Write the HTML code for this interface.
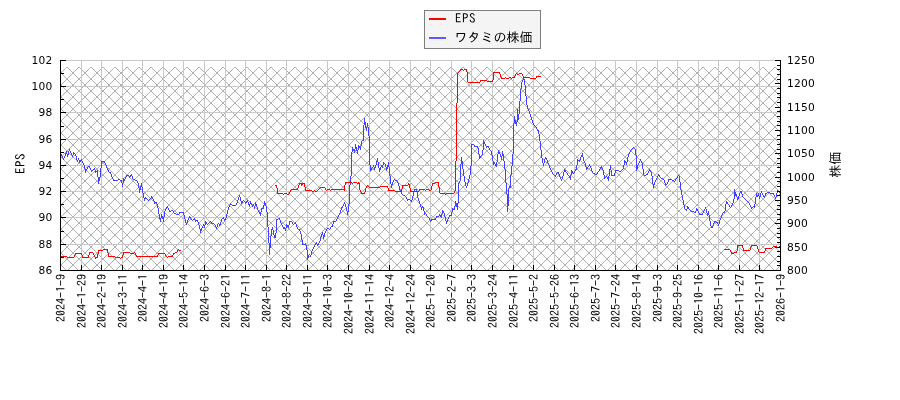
<!DOCTYPE html>
<html lang="ja"><head><meta charset="utf-8"><title>ワタミの株価 EPS</title>
<style>
html,body{margin:0;padding:0;background:#fff;}
body{width:900px;height:400px;overflow:hidden;}
svg{display:block;will-change:transform;}
.num{font-family:"DejaVu Sans","Liberation Sans",sans-serif;font-size:10.67px;letter-spacing:0.21px;fill:#000;}
.jp{font-family:"IPAGothic","Liberation Mono","Noto Sans CJK JP",monospace;fill:#000;}
</style></head><body>
<svg width="900" height="400" viewBox="0 0 900 400">
<rect x="0" y="0" width="900" height="400" fill="#ffffff"/>
<defs><clipPath id="hc"><rect x="61" y="67" width="719" height="203"/></clipPath>
<clipPath id="pc"><rect x="60" y="55" width="721" height="216"/></clipPath></defs>
<path clip-path="url(#hc)" d="M-156 60L59 275M-144 60L71 275M-132 60L83 275M-120 60L95 275M-108 60L107 275M-96 60L119 275M-84 60L131 275M-72 60L143 275M-60 60L155 275M-48 60L167 275M-36 60L179 275M-24 60L191 275M-12 60L203 275M0 60L215 275M12 60L227 275M24 60L239 275M36 60L251 275M48 60L263 275M60 60L275 275M72 60L287 275M84 60L299 275M96 60L311 275M108 60L323 275M120 60L335 275M132 60L347 275M144 60L359 275M156 60L371 275M168 60L383 275M180 60L395 275M192 60L407 275M204 60L419 275M216 60L431 275M228 60L443 275M240 60L455 275M252 60L467 275M264 60L479 275M276 60L491 275M288 60L503 275M300 60L515 275M312 60L527 275M324 60L539 275M336 60L551 275M348 60L563 275M360 60L575 275M372 60L587 275M384 60L599 275M396 60L611 275M408 60L623 275M420 60L635 275M432 60L647 275M444 60L659 275M456 60L671 275M468 60L683 275M480 60L695 275M492 60L707 275M504 60L719 275M516 60L731 275M528 60L743 275M540 60L755 275M552 60L767 275M564 60L779 275M576 60L791 275M588 60L803 275M600 60L815 275M612 60L827 275M624 60L839 275M636 60L851 275M648 60L863 275M660 60L875 275M672 60L887 275M684 60L899 275M696 60L911 275M708 60L923 275M720 60L935 275M732 60L947 275M744 60L959 275M756 60L971 275M768 60L983 275M780 60L995 275M62 60L-153 275M74 60L-141 275M86 60L-129 275M98 60L-117 275M110 60L-105 275M122 60L-93 275M134 60L-81 275M146 60L-69 275M158 60L-57 275M170 60L-45 275M182 60L-33 275M194 60L-21 275M206 60L-9 275M218 60L3 275M230 60L15 275M242 60L27 275M254 60L39 275M266 60L51 275M278 60L63 275M290 60L75 275M302 60L87 275M314 60L99 275M326 60L111 275M338 60L123 275M350 60L135 275M362 60L147 275M374 60L159 275M386 60L171 275M398 60L183 275M410 60L195 275M422 60L207 275M434 60L219 275M446 60L231 275M458 60L243 275M470 60L255 275M482 60L267 275M494 60L279 275M506 60L291 275M518 60L303 275M530 60L315 275M542 60L327 275M554 60L339 275M566 60L351 275M578 60L363 275M590 60L375 275M602 60L387 275M614 60L399 275M626 60L411 275M638 60L423 275M650 60L435 275M662 60L447 275M674 60L459 275M686 60L471 275M698 60L483 275M710 60L495 275M722 60L507 275M734 60L519 275M746 60L531 275M758 60L543 275M770 60L555 275M782 60L567 275M794 60L579 275M806 60L591 275M818 60L603 275M830 60L615 275M842 60L627 275M854 60L639 275M866 60L651 275M878 60L663 275M890 60L675 275M902 60L687 275M914 60L699 275M926 60L711 275M938 60L723 275M950 60L735 275M962 60L747 275M974 60L759 275M986 60L771 275M998 60L783 275" fill="none" stroke="#7a7a7a" stroke-width="0.6"/>
<path d="M81.5 60V270M101.5 60V270M122.5 60V270M142.5 60V270M163.5 60V270M183.5 60V270M204.5 60V270M225.5 60V270M245.5 60V270M266.5 60V270M286.5 60V270M307.5 60V270M327.5 60V270M348.5 60V270M369.5 60V270M389.5 60V270M410.5 60V270M430.5 60V270M451.5 60V270M471.5 60V270M492.5 60V270M513.5 60V270M533.5 60V270M554.5 60V270M574.5 60V270M595.5 60V270M615.5 60V270M636.5 60V270M657.5 60V270M677.5 60V270M698.5 60V270M718.5 60V270M739.5 60V270M759.5 60V270M780.5 60V270M61 60.5H780M61 86.5H780M61 112.5H780M61 139.5H780M61 165.5H780M61 191.5H780M61 217.5H780M61 244.5H780" fill="none" stroke="#c8c8c8" stroke-width="1" shape-rendering="crispEdges"/>
<g fill="none" stroke-width="1" stroke-linecap="butt" shape-rendering="crispEdges">
<path stroke="#4040ff" d="M61.5 154v2M62.5 156v2M63.5 158v2M64.5 156v2M65.5 153v3M66.5 151v3M67.5 154v3M68.5 151v4M69.5 149v2M70.5 151v2M71.5 153v2M72.5 155v2M73.5 152v3M74.5 153v1M75.5 154v2M76.5 156v4M77.5 160v2M78.5 158v2M79.5 160v3M80.5 160v2M81.5 159v2M82.5 161v2M83.5 163v2M84.5 165v4M85.5 169v4M86.5 169v2M87.5 167v2M88.5 166v1M89.5 166v2M90.5 168v2M91.5 170v2M92.5 170v1M93.5 169v1M94.5 168v2M95.5 170v3M96.5 171v1M97.5 170v7M98.5 177v7M99.5 177v4M100.5 168v9M101.5 161v7M102.5 161v1M103.5 161v1M104.5 161v2M105.5 163v2M106.5 165v3M107.5 168v2M108.5 170v2M109.5 172v1M110.5 172v2M111.5 174v3M112.5 177v2M113.5 179v2M114.5 180v1M115.5 180v1M116.5 180v1M117.5 180v1M118.5 179v1M119.5 179v1M120.5 180v1M121.5 180v3M122.5 183v4M123.5 178v5M124.5 179v2M125.5 177v2M126.5 175v2M127.5 175v1M128.5 175v1M129.5 176v2M130.5 175v2M131.5 174v2M132.5 176v3M133.5 179v1M134.5 179v1M135.5 180v1M136.5 180v1M137.5 181v2M138.5 183v5M139.5 188v5M140.5 186v4M141.5 183v4M142.5 187v6M143.5 193v5M144.5 198v3M145.5 197v2M146.5 198v1M147.5 199v1M148.5 200v1M149.5 199v1M150.5 198v1M151.5 196v2M152.5 197v2M153.5 199v2M154.5 201v3M155.5 202v1M156.5 202v2M157.5 204v4M158.5 208v6M159.5 214v5M160.5 218v4M161.5 214v4M162.5 216v3M163.5 217v5M164.5 211v6M165.5 209v2M166.5 207v2M167.5 206v2M168.5 208v2M169.5 210v2M170.5 211v1M171.5 210v1M172.5 210v1M173.5 211v2M174.5 213v1M175.5 213v1M176.5 214v1M177.5 214v1M178.5 214v1M179.5 212v2M180.5 212v1M181.5 212v1M182.5 212v1M183.5 212v3M184.5 215v4M185.5 219v4M186.5 223v2M187.5 220v3M188.5 218v2M189.5 216v2M190.5 217v2M191.5 219v1M192.5 220v1M193.5 219v1M194.5 218v2M195.5 220v2M196.5 220v1M197.5 220v2M198.5 222v3M199.5 225v4M200.5 229v4M201.5 228v3M202.5 226v2M203.5 224v2M204.5 225v3M205.5 221v4M206.5 222v2M207.5 224v1M208.5 223v1M209.5 222v1M210.5 221v1M211.5 222v2M212.5 223v1M213.5 223v1M214.5 224v1M215.5 225v2M216.5 227v2M217.5 224v3M218.5 223v1M219.5 224v2M220.5 222v3M221.5 219v3M222.5 218v1M223.5 217v2M224.5 219v2M225.5 218v2M226.5 214v4M227.5 210v4M228.5 207v3M229.5 205v2M230.5 203v2M231.5 204v1M232.5 205v1M233.5 205v1M234.5 205v1M235.5 205v1M236.5 203v2M237.5 200v3M238.5 197v3M239.5 195v2M240.5 197v4M241.5 201v3M242.5 201v2M243.5 200v1M244.5 201v1M245.5 202v2M246.5 201v2M247.5 200v2M248.5 202v3M249.5 204v3M250.5 201v3M251.5 203v2M252.5 205v2M253.5 204v2M254.5 206v3M255.5 202v4M256.5 204v3M257.5 207v3M258.5 210v2M259.5 212v2M260.5 212v4M261.5 208v4M262.5 208v1M263.5 205v4M264.5 201v4M265.5 203v3M266.5 206v6M267.5 212v15M268.5 227v16M269.5 243v12M270.5 236v12M271.5 229v7M272.5 227v3M273.5 230v5M274.5 235v3M275.5 233v5M276.5 219v14M277.5 219v1M278.5 218v1M279.5 218v2M280.5 220v3M281.5 223v2M282.5 225v2M283.5 227v2M284.5 227v2M285.5 228v3M286.5 224v4M287.5 225v2M288.5 225v3M289.5 221v4M290.5 221v1M291.5 221v1M292.5 222v2M293.5 224v1M294.5 223v1M295.5 222v2M296.5 224v3M297.5 227v2M298.5 229v1M299.5 229v2M300.5 231v3M301.5 234v6M302.5 240v5M303.5 244v1M304.5 244v1M305.5 243v2M306.5 245v5M307.5 250v10M308.5 255v3M309.5 254v1M310.5 255v2M311.5 251v4M312.5 249v2M313.5 247v2M314.5 245v2M315.5 243v2M316.5 242v2M317.5 244v2M318.5 243v2M319.5 241v2M320.5 237v4M321.5 234v3M322.5 232v3M323.5 235v4M324.5 233v4M325.5 231v2M326.5 229v2M327.5 228v1M328.5 228v1M329.5 229v1M330.5 227v2M331.5 226v1M332.5 224v3M333.5 221v3M334.5 221v1M335.5 221v1M336.5 219v2M337.5 217v2M338.5 215v2M339.5 213v2M340.5 210v3M341.5 207v3M342.5 206v2M343.5 204v2M344.5 202v2M345.5 204v3M346.5 207v4M347.5 211v4M348.5 204v8M349.5 185v19M350.5 176v9M351.5 152v24M352.5 147v5M353.5 149v2M354.5 149v4M355.5 144v5M356.5 147v4M357.5 150v4M358.5 145v5M359.5 146v2M360.5 146v4M361.5 141v5M362.5 140v1M363.5 125v16M364.5 118v7M365.5 122v6M366.5 127v4M367.5 123v4M368.5 127v9M369.5 136v29M370.5 165v6M371.5 168v2M372.5 167v1M373.5 165v2M374.5 167v3M375.5 165v3M376.5 161v4M377.5 158v4M378.5 162v6M379.5 168v4M380.5 167v3M381.5 165v2M382.5 165v3M383.5 162v3M384.5 163v1M385.5 164v3M386.5 167v4M387.5 165v4M388.5 162v5M389.5 167v9M390.5 176v8M391.5 184v4M392.5 182v3M393.5 180v2M394.5 179v1M395.5 180v1M396.5 180v1M397.5 181v2M398.5 183v3M399.5 186v4M400.5 190v2M401.5 192v2M402.5 194v1M403.5 195v1M404.5 195v1M405.5 196v1M406.5 197v2M407.5 199v2M408.5 199v1M409.5 199v1M410.5 200v1M411.5 200v2M412.5 196v4M413.5 192v4M414.5 189v3M415.5 189v1M416.5 189v3M417.5 192v6M418.5 198v3M419.5 201v3M420.5 204v3M421.5 207v3M422.5 206v2M423.5 207v4M424.5 211v4M425.5 213v1M426.5 214v2M427.5 216v1M428.5 217v1M429.5 218v2M430.5 220v2M431.5 219v2M432.5 219v1M433.5 219v1M434.5 219v1M435.5 218v2M436.5 216v2M437.5 216v1M438.5 216v1M439.5 214v2M440.5 215v2M441.5 214v4M442.5 210v4M443.5 211v2M444.5 213v4M445.5 217v4M446.5 221v3M447.5 219v3M448.5 217v2M449.5 215v2M450.5 215v1M451.5 212v4M452.5 208v4M453.5 209v1M454.5 206v4M455.5 201v5M456.5 203v4M457.5 203v7M458.5 183v20M459.5 181v2M460.5 164v17M461.5 157v7M462.5 161v8M463.5 169v7M464.5 176v6M465.5 182v4M466.5 186v2M467.5 183v3M468.5 179v4M469.5 175v4M470.5 166v9M471.5 144v22M472.5 144v1M473.5 144v1M474.5 145v2M475.5 146v1M476.5 146v1M477.5 146v2M478.5 148v6M479.5 154v5M480.5 156v2M481.5 155v1M482.5 150v5M483.5 140v10M484.5 142v2M485.5 144v2M486.5 146v2M487.5 146v1M488.5 146v2M489.5 148v2M490.5 150v1M491.5 151v4M492.5 155v6M493.5 161v4M494.5 162v2M495.5 164v2M496.5 162v5M497.5 154v8M498.5 150v4M499.5 152v2M500.5 154v3M501.5 156v4M502.5 151v5M503.5 154v7M504.5 161v8M505.5 169v14M506.5 183v11M507.5 194v18M508.5 188v18M509.5 186v2M510.5 175v13M511.5 166v9M512.5 154v12M513.5 123v31M514.5 116v7M515.5 120v4M516.5 122v4M517.5 109v13M518.5 114v6M519.5 101v13M520.5 89v12M521.5 82v7M522.5 80v2M523.5 78v2M524.5 79v6M525.5 85v11M526.5 96v9M527.5 105v4M528.5 109v2M529.5 111v3M530.5 114v3M531.5 117v3M532.5 120v3M533.5 123v2M534.5 125v1M535.5 126v1M536.5 127v2M537.5 129v2M538.5 130v4M539.5 134v7M540.5 141v9M541.5 150v8M542.5 158v5M543.5 163v3M544.5 159v4M545.5 157v2M546.5 158v2M547.5 160v3M548.5 163v2M549.5 165v3M550.5 168v2M551.5 170v2M552.5 172v2M553.5 174v1M554.5 175v1M555.5 175v2M556.5 173v2M557.5 172v1M558.5 172v2M559.5 174v3M560.5 177v2M561.5 179v2M562.5 176v3M563.5 172v4M564.5 169v3M565.5 170v2M566.5 172v1M567.5 173v2M568.5 175v1M569.5 176v2M570.5 175v5M571.5 170v5M572.5 171v2M573.5 173v1M574.5 171v2M575.5 169v2M576.5 165v5M577.5 159v6M578.5 160v1M579.5 160v2M580.5 157v3M581.5 155v2M582.5 153v4M583.5 157v4M584.5 161v2M585.5 163v4M586.5 167v3M587.5 167v2M588.5 166v1M589.5 164v2M590.5 166v2M591.5 168v3M592.5 171v2M593.5 173v1M594.5 173v1M595.5 174v1M596.5 174v1M597.5 172v2M598.5 171v1M599.5 169v2M600.5 167v2M601.5 166v2M602.5 168v2M603.5 170v5M604.5 175v4M605.5 177v1M606.5 176v1M607.5 177v2M608.5 176v5M609.5 169v7M610.5 165v5M611.5 170v6M612.5 175v1M613.5 175v1M614.5 173v3M615.5 170v3M616.5 170v1M617.5 170v1M618.5 170v1M619.5 171v1M620.5 171v1M621.5 170v1M622.5 169v1M623.5 165v4M624.5 160v5M625.5 161v2M626.5 162v3M627.5 157v5M628.5 154v3M629.5 152v2M630.5 150v2M631.5 149v1M632.5 148v1M633.5 147v1M634.5 148v1M635.5 149v6M636.5 155v16M637.5 165v4M638.5 163v2M639.5 161v2M640.5 159v2M641.5 161v2M642.5 163v6M643.5 169v6M644.5 175v1M645.5 175v1M646.5 174v1M647.5 173v2M648.5 171v2M649.5 169v2M650.5 170v2M651.5 172v4M652.5 176v8M653.5 184v4M654.5 182v3M655.5 180v2M656.5 178v2M657.5 176v2M658.5 174v2M659.5 175v2M660.5 177v1M661.5 178v1M662.5 178v1M663.5 179v1M664.5 180v3M665.5 183v3M666.5 184v1M667.5 182v2M668.5 179v3M669.5 179v1M670.5 179v1M671.5 179v1M672.5 180v1M673.5 180v1M674.5 181v1M675.5 179v2M676.5 178v1M677.5 176v2M678.5 175v1M679.5 176v6M680.5 182v8M681.5 190v5M682.5 195v5M683.5 200v5M684.5 205v4M685.5 209v1M686.5 209v2M687.5 206v3M688.5 207v2M689.5 209v1M690.5 210v1M691.5 211v1M692.5 211v1M693.5 211v1M694.5 212v1M695.5 211v2M696.5 208v3M697.5 209v2M698.5 211v2M699.5 213v2M700.5 214v1M701.5 214v1M702.5 213v2M703.5 211v2M704.5 209v2M705.5 207v2M706.5 209v4M707.5 213v3M708.5 211v4M709.5 215v6M710.5 221v5M711.5 226v2M712.5 226v2M713.5 223v3M714.5 221v2M715.5 221v1M716.5 222v1M717.5 222v2M718.5 224v2M719.5 220v4M720.5 218v2M721.5 215v3M722.5 213v2M723.5 212v1M724.5 211v2M725.5 204v7M726.5 201v3M727.5 202v2M728.5 204v1M729.5 205v2M730.5 207v1M731.5 205v2M732.5 203v2M733.5 199v4M734.5 189v10M735.5 192v4M736.5 194v3M737.5 197v3M738.5 196v3M739.5 193v3M740.5 191v2M741.5 191v3M742.5 194v3M743.5 197v1M744.5 198v1M745.5 199v1M746.5 200v1M747.5 201v1M748.5 202v1M749.5 203v2M750.5 205v2M751.5 207v2M752.5 207v1M753.5 206v1M754.5 204v4M755.5 197v7M756.5 193v4M757.5 195v2M758.5 193v3M759.5 196v3M760.5 193v4M761.5 191v2M762.5 193v2M763.5 195v2M764.5 196v2M765.5 193v3M766.5 193v1M767.5 192v1M768.5 192v1M769.5 192v1M770.5 193v1M771.5 193v1M772.5 193v1M773.5 193v2M774.5 195v2M775.5 197v2M776.5 193v4M777.5 190v3M778.5 191v1M779.5 192v1M780.5 192v1"/>
<path stroke="#ff0000" d="M460 69.5h3M464 69.5h3M460 70.5h1M463 70.5h1M466 70.5h1M459 71.5h1M466 71.5h1M458 72.5h1M467 72.5h1M493 72.5h7M457 73.5h1M467 73.5h1M493 73.5h1M499 73.5h1M516 73.5h1M519 73.5h3M457 74.5h1M467 74.5h1M493 74.5h1M500 74.5h1M515 74.5h1M517 74.5h2M522 74.5h1M457 75.5h1M467 75.5h1M493 75.5h1M500 75.5h1M515 75.5h1M522 75.5h1M457 76.5h1M467 76.5h1M493 76.5h1M500 76.5h1M514 76.5h1M523 76.5h1M536 76.5h5M457 77.5h1M467 77.5h1M493 77.5h1M501 77.5h1M505 77.5h1M509 77.5h2M512 77.5h3M523 77.5h7M536 77.5h1M457 78.5h1M467 78.5h1M493 78.5h1M501 78.5h4M506 78.5h3M511 78.5h1M530 78.5h6M457 79.5h1M467 79.5h1M493 79.5h1M457 80.5h1M467 80.5h1M480 80.5h7M492 80.5h1M457 81.5h1M467 81.5h1M480 81.5h1M487 81.5h6M457 82.5h1M468 82.5h12M457 83.5h1M457 84.5h1M457 85.5h1M457 86.5h1M457 87.5h1M457 88.5h1M457 89.5h1M457 90.5h1M457 91.5h1M457 92.5h1M457 93.5h1M457 94.5h1M457 95.5h1M457 96.5h1M457 97.5h1M457 98.5h1M457 99.5h1M457 100.5h1M457 101.5h1M457 102.5h1M456 103.5h1M456 104.5h1M456 105.5h1M456 106.5h1M456 107.5h1M456 108.5h1M456 109.5h1M456 110.5h1M456 111.5h1M456 112.5h1M456 113.5h1M456 114.5h1M456 115.5h1M456 116.5h1M456 117.5h1M456 118.5h1M456 119.5h1M456 120.5h1M456 121.5h1M456 122.5h1M456 123.5h1M456 124.5h1M456 125.5h1M456 126.5h1M456 127.5h1M456 128.5h1M456 129.5h1M456 130.5h1M456 131.5h1M456 132.5h1M456 133.5h1M456 134.5h1M456 135.5h1M456 136.5h1M456 137.5h1M456 138.5h1M456 139.5h1M456 140.5h1M456 141.5h1M456 142.5h1M456 143.5h1M456 144.5h1M456 145.5h1M456 146.5h1M456 147.5h1M456 148.5h1M456 149.5h1M456 150.5h1M456 151.5h1M456 152.5h1M456 153.5h1M456 154.5h1M456 155.5h1M456 156.5h1M456 157.5h1M456 158.5h1M456 159.5h1M456 160.5h1M455 161.5h1M455 162.5h1M455 163.5h1M455 164.5h1M455 165.5h1M455 166.5h1M455 167.5h1M455 168.5h1M455 169.5h1M455 170.5h1M455 171.5h1M455 172.5h1M455 173.5h1M455 174.5h1M455 175.5h1M455 176.5h1M455 177.5h1M455 178.5h1M455 179.5h1M455 180.5h1M455 181.5h1M345 182.5h7M353 182.5h4M358 182.5h1M435 182.5h4M455 182.5h1M299 183.5h6M345 183.5h1M352 183.5h1M357 183.5h3M408 183.5h1M432 183.5h3M438 183.5h1M455 183.5h1M299 184.5h1M301 184.5h2M304 184.5h1M345 184.5h1M359 184.5h1M408 184.5h2M432 184.5h1M438 184.5h1M455 184.5h1M275 185.5h2M298 185.5h1M301 185.5h1M304 185.5h1M344 185.5h1M359 185.5h1M367 185.5h1M402 185.5h6M409 185.5h1M432 185.5h1M438 185.5h1M455 185.5h1M276 186.5h1M298 186.5h1M304 186.5h1M344 186.5h1M359 186.5h1M366 186.5h1M368 186.5h1M380 186.5h8M402 186.5h1M409 186.5h1M431 186.5h1M438 186.5h1M455 186.5h1M276 187.5h1M298 187.5h1M305 187.5h1M320 187.5h5M344 187.5h1M359 187.5h1M366 187.5h1M369 187.5h11M387 187.5h1M402 187.5h1M409 187.5h1M431 187.5h1M439 187.5h1M455 187.5h1M277 188.5h1M297 188.5h1M305 188.5h1M319 188.5h1M325 188.5h1M344 188.5h1M359 188.5h1M365 188.5h1M388 188.5h1M402 188.5h1M410 188.5h1M431 188.5h1M439 188.5h1M455 188.5h1M277 189.5h1M291 189.5h7M305 189.5h1M318 189.5h1M325 189.5h1M327 189.5h3M331 189.5h14M359 189.5h1M365 189.5h1M388 189.5h1M401 189.5h1M410 189.5h1M419 189.5h6M426 189.5h3M431 189.5h1M439 189.5h1M455 189.5h1M277 190.5h1M290 190.5h1M305 190.5h7M314 190.5h1M317 190.5h1M326 190.5h1M330 190.5h1M344 190.5h1M360 190.5h1M365 190.5h1M388 190.5h7M401 190.5h1M410 190.5h1M419 190.5h1M425 190.5h1M429 190.5h2M439 190.5h1M455 190.5h1M277 191.5h1M290 191.5h1M312 191.5h2M315 191.5h2M360 191.5h1M365 191.5h1M395 191.5h7M410 191.5h9M439 191.5h1M454 191.5h1M277 192.5h1M289 192.5h1M361 192.5h1M364 192.5h1M439 192.5h1M454 192.5h1M277 193.5h6M284 193.5h3M289 193.5h1M361 193.5h4M440 193.5h5M446 193.5h8M283 194.5h1M287 194.5h2M445 194.5h1M737 245.5h6M751 245.5h6M737 246.5h1M742 246.5h1M751 246.5h1M757 246.5h1M773 246.5h4M779 246.5h2M737 247.5h1M742 247.5h1M750 247.5h1M757 247.5h1M772 247.5h1M777 247.5h2M737 248.5h1M743 248.5h1M750 248.5h1M757 248.5h1M765 248.5h7M103 249.5h5M178 249.5h1M724 249.5h6M737 249.5h1M743 249.5h1M750 249.5h1M758 249.5h1M765 249.5h1M98 250.5h5M107 250.5h1M177 250.5h1M179 250.5h2M730 250.5h1M737 250.5h1M743 250.5h7M758 250.5h1M765 250.5h1M98 251.5h1M107 251.5h1M177 251.5h1M730 251.5h1M736 251.5h1M758 251.5h1M764 251.5h1M89 252.5h4M98 252.5h1M107 252.5h1M123 252.5h7M134 252.5h1M175 252.5h2M731 252.5h1M734 252.5h3M759 252.5h6M75 253.5h7M89 253.5h1M93 253.5h1M98 253.5h1M108 253.5h1M123 253.5h1M130 253.5h4M135 253.5h1M158 253.5h7M173 253.5h2M731 253.5h3M75 254.5h1M81 254.5h1M89 254.5h1M93 254.5h1M97 254.5h1M108 254.5h1M123 254.5h1M135 254.5h1M158 254.5h1M165 254.5h1M173 254.5h1M74 255.5h1M82 255.5h1M88 255.5h1M94 255.5h1M97 255.5h1M108 255.5h1M122 255.5h1M136 255.5h1M157 255.5h1M165 255.5h1M172 255.5h1M60 256.5h7M74 256.5h1M82 256.5h1M88 256.5h1M94 256.5h1M97 256.5h1M108 256.5h7M122 256.5h1M136 256.5h22M166 256.5h1M168 256.5h5M67 257.5h7M82 257.5h7M95 257.5h3M115 257.5h5M121 257.5h2M167 257.5h1M95 258.5h1M120 258.5h1"/>
</g>
<path d="M60.5 60V271M780.5 60V271M60 270.5H781M61 60.5H66M61 73.5H64M61 86.5H66M61 99.5H64M61 112.5H66M61 126.5H64M61 139.5H66M61 152.5H64M61 165.5H66M61 178.5H64M61 191.5H66M61 204.5H64M61 217.5H66M61 231.5H64M61 244.5H66M61 257.5H64M61 270.5H66M775 60.5H780M777 65.5H780M777 69.5H780M777 74.5H780M777 79.5H780M775 83.5H780M777 88.5H780M777 93.5H780M777 97.5H780M777 102.5H780M775 107.5H780M777 111.5H780M777 116.5H780M777 121.5H780M777 125.5H780M775 130.5H780M777 135.5H780M777 139.5H780M777 144.5H780M777 149.5H780M775 153.5H780M777 158.5H780M777 163.5H780M777 167.5H780M777 172.5H780M775 177.5H780M777 181.5H780M777 186.5H780M777 191.5H780M777 195.5H780M775 200.5H780M777 205.5H780M777 209.5H780M777 214.5H780M777 219.5H780M775 223.5H780M777 228.5H780M777 233.5H780M777 237.5H780M777 242.5H780M775 247.5H780M777 251.5H780M777 256.5H780M777 261.5H780M777 265.5H780M775 270.5H780M81.5 265V270M101.5 265V270M122.5 265V270M142.5 265V270M163.5 265V270M183.5 265V270M204.5 265V270M225.5 265V270M245.5 265V270M266.5 265V270M286.5 265V270M307.5 265V270M327.5 265V270M348.5 265V270M369.5 265V270M389.5 265V270M410.5 265V270M430.5 265V270M451.5 265V270M471.5 265V270M492.5 265V270M513.5 265V270M533.5 265V270M554.5 265V270M574.5 265V270M595.5 265V270M615.5 265V270M636.5 265V270M657.5 265V270M677.5 265V270M698.5 265V270M718.5 265V270M739.5 265V270M759.5 265V270" fill="none" stroke="#000" stroke-width="1" shape-rendering="crispEdges"/>
<text class="num" x="52.4" y="64" text-anchor="end">102</text>
<text class="num" x="52.4" y="90" text-anchor="end">100</text>
<text class="num" x="52.4" y="116" text-anchor="end">98</text>
<text class="num" x="52.4" y="143" text-anchor="end">96</text>
<text class="num" x="52.4" y="169" text-anchor="end">94</text>
<text class="num" x="52.4" y="195" text-anchor="end">92</text>
<text class="num" x="52.4" y="221" text-anchor="end">90</text>
<text class="num" x="52.4" y="248" text-anchor="end">88</text>
<text class="num" x="52.4" y="274" text-anchor="end">86</text>
<text class="num" x="787" y="64">1250</text>
<text class="num" x="787" y="87">1200</text>
<text class="num" x="787" y="111">1150</text>
<text class="num" x="787" y="134">1100</text>
<text class="num" x="787" y="157">1050</text>
<text class="num" x="787" y="181">1000</text>
<text class="num" x="787" y="204">950</text>
<text class="num" x="787" y="227">900</text>
<text class="num" x="787" y="251">850</text>
<text class="num" x="787" y="274">800</text>
<text class="jp" font-size="12" transform="translate(65.2,274.1) rotate(-90)" text-anchor="end">2024-1-9</text>
<text class="jp" font-size="12" transform="translate(86.2,274.1) rotate(-90)" text-anchor="end">2024-1-29</text>
<text class="jp" font-size="12" transform="translate(106.2,274.1) rotate(-90)" text-anchor="end">2024-2-19</text>
<text class="jp" font-size="12" transform="translate(127.2,274.1) rotate(-90)" text-anchor="end">2024-3-11</text>
<text class="jp" font-size="12" transform="translate(147.2,274.1) rotate(-90)" text-anchor="end">2024-4-1</text>
<text class="jp" font-size="12" transform="translate(168.2,274.1) rotate(-90)" text-anchor="end">2024-4-19</text>
<text class="jp" font-size="12" transform="translate(188.2,274.1) rotate(-90)" text-anchor="end">2024-5-14</text>
<text class="jp" font-size="12" transform="translate(209.2,274.1) rotate(-90)" text-anchor="end">2024-6-3</text>
<text class="jp" font-size="12" transform="translate(230.2,274.1) rotate(-90)" text-anchor="end">2024-6-21</text>
<text class="jp" font-size="12" transform="translate(250.2,274.1) rotate(-90)" text-anchor="end">2024-7-11</text>
<text class="jp" font-size="12" transform="translate(271.2,274.1) rotate(-90)" text-anchor="end">2024-8-1</text>
<text class="jp" font-size="12" transform="translate(291.2,274.1) rotate(-90)" text-anchor="end">2024-8-22</text>
<text class="jp" font-size="12" transform="translate(312.2,274.1) rotate(-90)" text-anchor="end">2024-9-11</text>
<text class="jp" font-size="12" transform="translate(332.2,274.1) rotate(-90)" text-anchor="end">2024-10-3</text>
<text class="jp" font-size="12" transform="translate(353.2,274.1) rotate(-90)" text-anchor="end">2024-10-24</text>
<text class="jp" font-size="12" transform="translate(374.2,274.1) rotate(-90)" text-anchor="end">2024-11-14</text>
<text class="jp" font-size="12" transform="translate(394.2,274.1) rotate(-90)" text-anchor="end">2024-12-4</text>
<text class="jp" font-size="12" transform="translate(415.2,274.1) rotate(-90)" text-anchor="end">2024-12-24</text>
<text class="jp" font-size="12" transform="translate(435.2,274.1) rotate(-90)" text-anchor="end">2025-1-20</text>
<text class="jp" font-size="12" transform="translate(456.2,274.1) rotate(-90)" text-anchor="end">2025-2-7</text>
<text class="jp" font-size="12" transform="translate(476.2,274.1) rotate(-90)" text-anchor="end">2025-3-3</text>
<text class="jp" font-size="12" transform="translate(497.2,274.1) rotate(-90)" text-anchor="end">2025-3-24</text>
<text class="jp" font-size="12" transform="translate(518.2,274.1) rotate(-90)" text-anchor="end">2025-4-11</text>
<text class="jp" font-size="12" transform="translate(538.2,274.1) rotate(-90)" text-anchor="end">2025-5-2</text>
<text class="jp" font-size="12" transform="translate(559.2,274.1) rotate(-90)" text-anchor="end">2025-5-26</text>
<text class="jp" font-size="12" transform="translate(579.2,274.1) rotate(-90)" text-anchor="end">2025-6-13</text>
<text class="jp" font-size="12" transform="translate(600.2,274.1) rotate(-90)" text-anchor="end">2025-7-3</text>
<text class="jp" font-size="12" transform="translate(620.2,274.1) rotate(-90)" text-anchor="end">2025-7-24</text>
<text class="jp" font-size="12" transform="translate(641.2,274.1) rotate(-90)" text-anchor="end">2025-8-14</text>
<text class="jp" font-size="12" transform="translate(662.2,274.1) rotate(-90)" text-anchor="end">2025-9-3</text>
<text class="jp" font-size="12" transform="translate(682.2,274.1) rotate(-90)" text-anchor="end">2025-9-25</text>
<text class="jp" font-size="12" transform="translate(703.2,274.1) rotate(-90)" text-anchor="end">2025-10-16</text>
<text class="jp" font-size="12" transform="translate(723.2,274.1) rotate(-90)" text-anchor="end">2025-11-6</text>
<text class="jp" font-size="12" transform="translate(744.2,274.1) rotate(-90)" text-anchor="end">2025-11-27</text>
<text class="jp" font-size="12" transform="translate(764.2,274.1) rotate(-90)" text-anchor="end">2025-12-17</text>
<text class="jp" font-size="12" transform="translate(785.2,274.1) rotate(-90)" text-anchor="end">2026-1-9</text>
<text class="jp" font-size="13" letter-spacing="0.5" transform="translate(24.9,163.5) rotate(-90)" text-anchor="middle">EPS</text>
<text class="jp" font-size="13" transform="translate(840.3,164.7) rotate(-90)" text-anchor="middle">株価</text>
<rect x="424.5" y="10.5" width="116" height="38" fill="#f4f4f4" stroke="#7d7d7d" stroke-width="1"/>
<path d="M429 19H446" stroke="#ff0000" stroke-width="2"/>
<path d="M429 38H446" stroke="#5a5aff" stroke-width="2"/>
<text class="jp" font-size="13" letter-spacing="0.5" x="455" y="23.2">EPS</text>
<text class="jp" font-size="13" x="454.5" y="42.2">ワタミの株価</text>
</svg></body></html>
